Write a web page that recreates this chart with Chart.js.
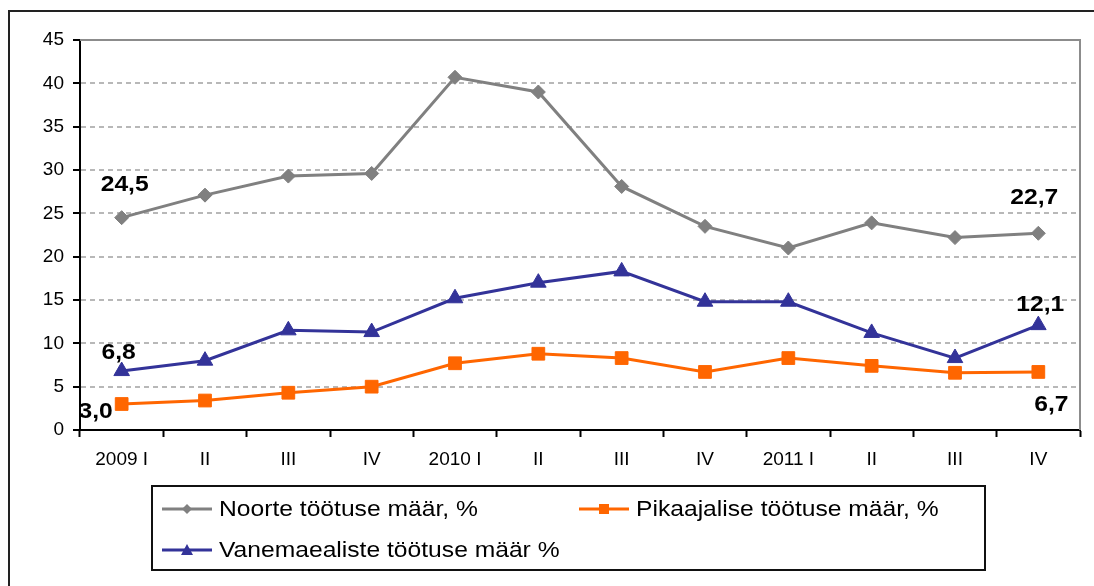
<!DOCTYPE html>
<html>
<head>
<meta charset="utf-8">
<script src="https://cdn.jsdelivr.net/npm/chart.js@4"></script>
<style>
html,body{margin:0;padding:0;background:#fff;}
#wrap{width:1094px;height:586px;position:relative;}
</style>
</head>
<body>
<div id="wrap"><canvas id="c" width="1094" height="586"></canvas></div>
<script>
const categories = ['2009 I','II','III','IV','2010 I','II','III','IV','2011 I','II','III','IV'];
const noorte = [24.5, 27.1, 29.3, 29.6, 40.7, 39.0, 28.1, 23.5, 21.0, 23.9, 22.2, 22.7];
const pikaajalise = [3.0, 3.4, 4.3, 5.0, 7.7, 8.8, 8.3, 6.7, 8.3, 7.4, 6.6, 6.7];
const vanemaealiste = [6.8, 8.0, 11.5, 11.3, 15.2, 17.0, 18.3, 14.8, 14.8, 11.2, 8.3, 12.1];
const seriesNames = ['Noorte töötuse määr, %', 'Pikaajalise töötuse määr, %', 'Vanemaealiste töötuse määr %'];
const yTicks = [0, 5, 10, 15, 20, 25, 30, 35, 40, 45];

const GRAY = '#808080', ORANGE = '#FF6600', BLUE = '#333399';
const FONT = '"Liberation Sans", Arial, sans-serif';

function fmt(v){ return v.toFixed(1).replace('.', ','); }

// label offsets for first/last points of each dataset [dx, dy]
const labelOffsets = {
  0: {first: [3, -33], last: [-4, -35]},
  1: {first: [-26, 8], last: [13, 33]},
  2: {first: [-3, -18], last: [2, -20]}
};

const framePlugin = {
  id: 'frame',
  beforeDraw(chart){
    const ctx = chart.ctx;
    ctx.save();
    ctx.fillStyle = '#fff';
    ctx.fillRect(0, 0, chart.width, chart.height);
    ctx.strokeStyle = '#222';
    ctx.lineWidth = 2;
    ctx.strokeRect(9, 11, 1200, 800);
    ctx.restore();
  },
  beforeDatasetsDraw(chart){
    const ctx = chart.ctx, a = chart.chartArea;
    ctx.save();
    ctx.strokeStyle = '#8c8c8c';
    ctx.lineWidth = 2;
    ctx.beginPath();
    ctx.moveTo(a.left, a.top);
    ctx.lineTo(a.right, a.top);
    ctx.lineTo(a.right, a.bottom);
    ctx.stroke();
    ctx.restore();
  }
};

function stretchText(ctx, text, x, y, sx, align){
  ctx.save();
  ctx.translate(x, y);
  ctx.scale(sx, 1);
  ctx.textAlign = align || 'center';
  ctx.fillText(text, 0, 0);
  ctx.restore();
}

const labelPlugin = {
  id: 'lbls',
  afterDatasetsDraw(chart){
    const ctx = chart.ctx;
    ctx.save();
    ctx.fillStyle = '#000';
    ctx.font = 'bold 22px ' + FONT;
    ctx.textBaseline = 'middle';
    chart.data.datasets.forEach((ds, i) => {
      const meta = chart.getDatasetMeta(i);
      const n = ds.data.length;
      const f = meta.data[0], l = meta.data[n - 1];
      const o = labelOffsets[i];
      stretchText(ctx, fmt(ds.data[0]), f.x + o.first[0], f.y + o.first[1], 1.12);
      stretchText(ctx, fmt(ds.data[n - 1]), l.x + o.last[0], l.y + o.last[1], 1.12);
    });
    ctx.restore();
  }
};

function drawMarker(ctx, style, color, x, y){
  ctx.save();
  ctx.fillStyle = color;
  ctx.beginPath();
  if (style === 'rectRot'){
    ctx.moveTo(x, y - 5); ctx.lineTo(x + 5, y); ctx.lineTo(x, y + 5); ctx.lineTo(x - 5, y); ctx.closePath();
  } else if (style === 'rect'){
    ctx.rect(x - 5, y - 5, 10, 10);
  } else {
    ctx.moveTo(x, y - 6); ctx.lineTo(x + 6, y + 5); ctx.lineTo(x - 6, y + 5); ctx.closePath();
  }
  ctx.fill();
  ctx.restore();
}

const legendPlugin = {
  id: 'customLegend',
  afterDraw(chart){
    const ctx = chart.ctx;
    ctx.save();
    ctx.strokeStyle = '#111';
    ctx.lineWidth = 2;
    ctx.strokeRect(152, 486, 833, 84);
    const items = [
      {x: 162, y: 509, i: 0},
      {x: 579, y: 509, i: 1},
      {x: 162, y: 550, i: 2}
    ];
    items.forEach(it => {
      const ds = chart.data.datasets[it.i];
      ctx.strokeStyle = ds.borderColor;
      ctx.lineWidth = 3;
      ctx.beginPath();
      ctx.moveTo(it.x, it.y);
      ctx.lineTo(it.x + 50, it.y);
      ctx.stroke();
      drawMarker(ctx, ds.pointStyle, ds.borderColor, it.x + 25, it.y);
      ctx.fillStyle = '#000';
      ctx.font = '22px ' + FONT;
      ctx.textBaseline = 'middle';
      stretchText(ctx, ds.label, it.x + 57, it.y + 1, 1.12, 'left');
    });
    ctx.restore();
  }
};

new Chart(document.getElementById('c'), {
  type: 'line',
  data: {
    labels: categories,
    datasets: [
      {label: seriesNames[0], data: noorte, borderColor: GRAY, backgroundColor: GRAY,
       borderWidth: 3, pointStyle: 'rectRot', pointRadius: 7, pointBorderWidth: 1, tension: 0},
      {label: seriesNames[1], data: pikaajalise, borderColor: ORANGE, backgroundColor: ORANGE,
       borderWidth: 3, pointStyle: 'rect', pointRadius: 9, pointBorderWidth: 1, tension: 0},
      {label: seriesNames[2], data: vanemaealiste, borderColor: BLUE, backgroundColor: BLUE,
       borderWidth: 3, pointStyle: 'triangle', pointRadius: 9, pointBorderWidth: 1, tension: 0}
    ]
  },
  options: {
    responsive: false,
    animation: false,
    events: [],
    layout: {padding: {left: 0, top: 40, right: 14, bottom: 0}},
    plugins: {legend: {display: false}, tooltip: {enabled: false}, title: {display: false}},
    scales: {
      x: {
        offset: true,
        grid: {offset: true, drawOnChartArea: false, drawTicks: true, tickLength: 7, color: '#000', tickColor: '#000', tickWidth: 2},
        border: {display: true, color: '#000', width: 2},
        ticks: {color: '#000', font: {family: FONT, size: 19}, padding: 11, maxRotation: 0, autoSkip: false},
        afterFit(s){ s.height = 156; }
      },
      y: {
        min: 0, max: 45,
        afterBuildTicks(s){ s.ticks = yTicks.map(v => ({value: v})); },
        grid: {color: '#b8b8b8', lineWidth: 2, tickLength: 7, tickColor: '#000', tickWidth: 2},
        border: {display: true, color: '#000', width: 2, dash: [5, 4]},
        ticks: {color: '#000', font: {family: FONT, size: 19}, padding: 9, autoSkip: false},
        afterFit(s){ s.width = 80; }
      }
    }
  },
  plugins: [framePlugin, labelPlugin, legendPlugin]
});
</script>
</body>
</html>
